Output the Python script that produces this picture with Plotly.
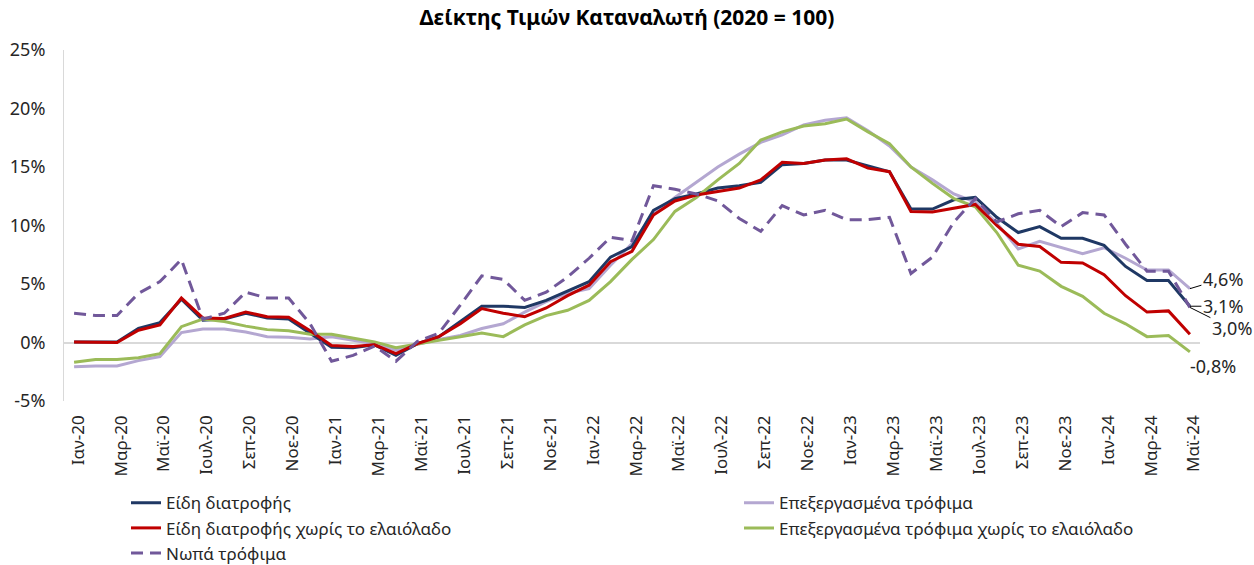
import plotly.graph_objects as go

months = ["Ιαν", "Φεβ", "Μαρ", "Απρ", "Μαϊ", "Ιουν", "Ιουλ", "Αυγ", "Σεπ", "Οκτ", "Νοε", "Δεκ"]
years = ["20", "21", "22", "23", "24"]
categories = [f"{m}-{y}" for y in years for m in months][:53]
tick_labels = categories[::2]

food = [0.05, 0.05, 0.05, 1.2, 1.7, 3.7, 1.9, 2.0, 2.5, 2.1, 2.0, 0.8,
        -0.4, -0.45, -0.2, -1.1, -0.1, 0.5, 1.8, 3.1, 3.1, 3.0, 3.6, 4.4,
        5.2, 7.3, 8.2, 11.3, 12.3, 12.7, 13.2, 13.4, 13.7, 15.2, 15.3, 15.6,
        15.6, 15.1, 14.6, 11.4, 11.4, 12.2, 12.4, 10.7, 9.4, 9.9, 8.9, 8.9,
        8.3, 6.5, 5.3, 5.3, 3.1]
food_no_oil = [0.05, 0.05, 0.0, 1.05, 1.5, 3.8, 2.1, 2.05, 2.6, 2.2, 2.15, 1.0,
               -0.25, -0.35, -0.2, -0.95, -0.1, 0.5, 1.6, 2.9, 2.5, 2.2, 2.95, 4.0,
               4.9, 6.9, 7.8, 10.9, 12.1, 12.6, 12.9, 13.2, 13.9, 15.4, 15.3, 15.6,
               15.7, 14.9, 14.6, 11.2, 11.15, 11.5, 11.8, 10.0, 8.4, 8.2, 6.85, 6.8,
               5.8, 4.0, 2.6, 2.7, 0.7]
processed = [-2.07, -2.0, -2.0, -1.55, -1.2, 0.85, 1.15, 1.15, 0.9, 0.5, 0.45, 0.3,
             0.5, 0.2, -0.1, -0.65, -0.15, 0.25, 0.6, 1.2, 1.6, 2.6, 3.5, 4.2,
             4.6, 6.6, 8.45, 11.0, 12.4, 13.7, 15.0, 16.1, 17.1, 17.75, 18.6, 19.0,
             19.2, 18.1, 16.8, 15.0, 13.9, 12.7, 12.0, 10.2, 8.0, 8.65, 8.1, 7.6,
             8.1, 7.2, 6.2, 6.2, 4.6]
processed_no_oil = [-1.68, -1.45, -1.45, -1.3, -0.95, 1.35, 2.0, 1.8, 1.4, 1.1, 1.0, 0.7,
                    0.7, 0.35, 0.05, -0.45, -0.1, 0.2, 0.5, 0.8, 0.5, 1.5, 2.3, 2.75,
                    3.6, 5.2, 7.1, 8.8, 11.2, 12.4, 13.9, 15.3, 17.3, 18.0, 18.5, 18.7,
                    19.1, 18.0, 17.0, 15.0, 13.6, 12.3, 11.6, 9.4, 6.6, 6.1, 4.8, 3.95,
                    2.5, 1.6, 0.5, 0.6, -0.8]
fresh = [2.5, 2.3, 2.3, 4.2, 5.2, 7.1, 2.0, 2.5, 4.3, 3.8, 3.8, 1.6,
         -1.6, -1.1, -0.3, -1.6, 0.1, 0.8, 3.2, 5.7, 5.4, 3.6, 4.3, 5.6,
         7.2, 9.0, 8.7, 13.4, 13.1, 12.7, 12.1, 10.6, 9.5, 11.7, 10.9, 11.3,
         10.5, 10.5, 10.7, 5.9, 7.3, 10.3, 12.3, 10.3, 11.0, 11.3, 9.9, 11.1,
         10.9, 8.4, 6.1, 6.1, 3.0]

y_tick_vals = [-5, 0, 5, 10, 15, 20, 25]
y_tick_text = ["-5%", "0%", "5%", "10%", "15%", "20%", "25%"]

FONT = "Noto Sans"
TXT = "#262626"

fig = go.Figure()
series = [
    ("Επεξεργασμένα τρόφιμα", processed, "#B4A7D1", "solid", "legend2"),
    ("Είδη διατροφής", food, "#1F3864", "solid", "legend"),
    ("Επεξεργασμένα τρόφιμα χωρίς το ελαιόλαδο", processed_no_oil, "#9BBB59", "solid", "legend2"),
    ("Είδη διατροφής χωρίς το ελαιόλαδο", food_no_oil, "#C00000", "solid", "legend"),
    ("Νωπά τρόφιμα", fresh, "#71589A", "12px,7px", "legend"),
]
rank = {"Είδη διατροφής": 1, "Είδη διατροφής χωρίς το ελαιόλαδο": 2, "Νωπά τρόφιμα": 3,
        "Επεξεργασμένα τρόφιμα": 1, "Επεξεργασμένα τρόφιμα χωρίς το ελαιόλαδο": 2}
for name, vals, color, dash, leg in series:
    fig.add_trace(go.Scatter(
        x=categories, y=vals, mode="lines", name=name,
        line=dict(color=color, width=3, dash=dash),
        legend=leg, legendrank=rank[name],
    ))

last = categories[-1]
ann_font = dict(family=FONT, size=18, color=TXT)
fig.add_annotation(x=last, y=processed[-1], text="4,6%", showarrow=True, arrowhead=0,
                   arrowwidth=1, arrowcolor="#000000", ax=33, ay=-10, xref="x", yref="y",
                   font=ann_font)
fig.add_annotation(x=last, y=food[-1], text="3,1%", showarrow=True, arrowhead=0,
                   arrowwidth=1, arrowcolor="#000000", ax=33, ay=0, xref="x", yref="y",
                   font=ann_font)
fig.add_annotation(x=last, y=fresh[-1], text="3,0%", showarrow=True, arrowhead=0,
                   arrowwidth=1, arrowcolor="#000000", ax=42, ay=21, xref="x", yref="y",
                   font=ann_font)
fig.add_annotation(x=last, y=processed_no_oil[-1], text="-0,8%", showarrow=False,
                   xshift=23, yshift=-14, xref="x", yref="y", font=ann_font)

fig.update_layout(
    width=1254, height=565,
    margin=dict(l=64, r=54, t=50, b=164, autoexpand=False),
    paper_bgcolor="white", plot_bgcolor="white",
    font=dict(family=FONT, size=16, color=TXT),
    title=dict(text="<b>Δείκτης Τιμών Καταναλωτή (2020 = 100)</b>",
               x=0.5, xanchor="center", y=1 - 18 / 565, yanchor="middle",
               yref="container", font=dict(family=FONT, size=21, color="#000000")),
    xaxis=dict(type="category", range=[-0.47, 52.47], tickmode="array",
               tickvals=tick_labels, ticktext=tick_labels, tickangle=-90,
               showgrid=False, showline=False, ticks="",
               ticklabelstandoff=10, ticklabelshift=4,
               tickfont=dict(family=FONT, size=17, color=TXT)),
    yaxis=dict(range=[-5, 25], tickvals=y_tick_vals, ticktext=y_tick_text,
               showgrid=False, zeroline=True, zerolinecolor="#D9D9D9", zerolinewidth=1.5,
               showline=True, linecolor="#D9D9D9", linewidth=1, ticks="",
               ticklabelstandoff=14,
               tickfont=dict(family=FONT, size=18, color=TXT)),
    legend=dict(x=(126 - 64) / 1136, y=-0.24, xanchor="left", yanchor="top",
                orientation="v", font=dict(family=FONT, size=17, color=TXT),
                tracegroupgap=0, bgcolor="rgba(0,0,0,0)", itemwidth=30),
    legend2=dict(x=(739 - 64) / 1136, y=-0.24, xanchor="left", yanchor="top",
                 orientation="v", font=dict(family=FONT, size=17, color=TXT),
                 tracegroupgap=0, bgcolor="rgba(0,0,0,0)", itemwidth=30),
    showlegend=True,
)

fig.write_html("out.html", config={"displayModeBar": False},
               post_script="document.body.style.margin='0';document.body.style.overflow='hidden';")
